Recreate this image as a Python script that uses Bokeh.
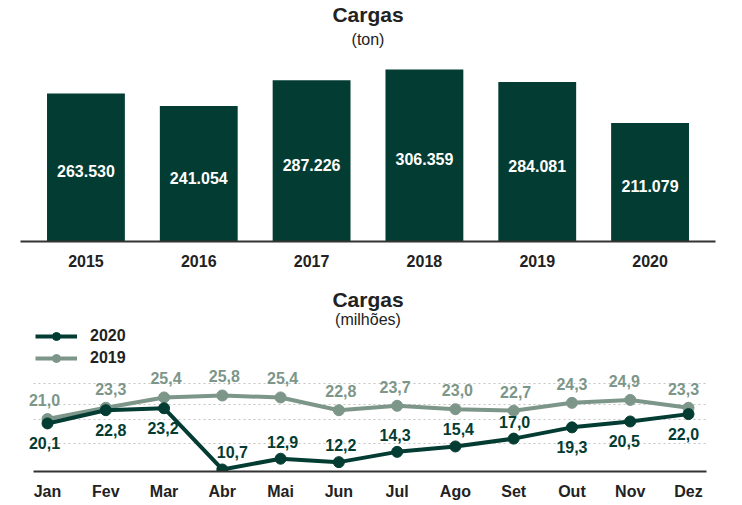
from bokeh.plotting import figure
from bokeh.models import (ColumnDataSource, FactorRange, Range1d, Title, Legend,
                          LegendItem, FixedTicker, LabelSet)
from bokeh.layouts import column
from bokeh.embed import file_html
from bokeh.resources import INLINE
from bokeh.core.properties import value

# ---------------- data ----------------
years = ["2015", "2016", "2017", "2018", "2019", "2020"]
tons = [263530, 241054, 287226, 306359, 284081, 211079]

months = ["Jan", "Fev", "Mar", "Abr", "Mai", "Jun",
          "Jul", "Ago", "Set", "Out", "Nov", "Dez"]
cargas_2020 = [20.1, 22.8, 23.2, 10.7, 12.9, 12.2, 14.3, 15.4, 17.0, 19.3, 20.5, 22.0]
cargas_2019 = [21.0, 23.3, 25.4, 25.8, 25.4, 22.8, 23.7, 23.0, 22.7, 24.3, 24.9, 23.3]
grid_levels = [16.0, 20.8, 24.0, 28.2]

# ---------------- styling ----------------
FONT = "Liberation Sans"
DARK = "#033c32"
GREY = "#7d968a"
INK = "#222222"
AXIS = "#333333"

side_2020 = ["below", "below", "below", "above", "above", "above",
             "above", "above", "above", "below", "below", "below"]
dx_2020 = [-3, 5, -1, 10, 2, 2, -2, 3, 1, 0, -6, -5]
dx_2019 = [-3, 5, 2, 2, 2, 2, -2, 2, 2, 0, -6, -5]
up_map = {"above": 17, "below": -20}


def style_axis(ax, size, standoff):
    ax.axis_line_color = AXIS
    ax.axis_line_width = 2
    ax.major_tick_line_color = None
    ax.minor_tick_line_color = None
    ax.major_tick_out = 0
    ax.major_tick_in = 0
    ax.minor_tick_out = 0
    ax.minor_tick_in = 0
    ax.axis_label = None
    ax.major_label_text_font = FONT
    ax.major_label_text_font_size = size
    ax.major_label_text_font_style = "bold"
    ax.major_label_text_color = INK
    ax.major_label_standoff = standoff


# ---------------- top: bar chart ----------------
src1 = ColumnDataSource(dict(
    year=years, ton=tons,
    mid=[t / 2 for t in tons],
    lab=[f"{t:,}".replace(",", ".") for t in tons],
))

p1 = figure(width=742, height=272,
            x_range=FactorRange(*years, range_padding=0.08, range_padding_units="absolute"),
            y_range=Range1d(0, 340000),
            output_backend="svg", toolbar_location=None,
            y_axis_location=None, title_location=None,
            min_border_left=20, min_border_right=27,
            min_border_top=50, min_border_bottom=31)
p1.add_layout(Title(text="(ton)", align="center", text_font=FONT, text_font_size="16px",
                    text_font_style="normal", text_color=INK, standoff=6), "above")
p1.add_layout(Title(text="Cargas", align="center", text_font=FONT, text_font_size="21px",
                    text_font_style="bold", text_color=INK, standoff=0), "above")

p1.vbar(x="year", top="ton", width=0.69, source=src1, fill_color=DARK, line_color=None)
p1.add_layout(LabelSet(x="year", y="mid", text="lab", source=src1, y_offset=-4,
                       text_align="center", text_baseline="middle", text_color="white",
                       text_font=value(FONT), text_font_size="16px", text_font_style="bold"))

style_axis(p1.xaxis[0], "16px", 13)
p1.xgrid.grid_line_color = None
p1.ygrid.grid_line_color = None
p1.outline_line_color = None

# ---------------- bottom: line chart ----------------
def fmt(v):
    return f"{v:.1f}".replace(".", ",")

src2 = ColumnDataSource(dict(
    month=months, v20=cargas_2020, v19=cargas_2019,
    l20=[fmt(v) for v in cargas_2020], l19=[fmt(v) for v in cargas_2019],
    up20=[up_map[s] for s in side_2020], up19=[19] * len(months),
    dx20=dx_2020, dx19=dx_2019,
))

p2 = figure(width=742, height=233,
            x_range=FactorRange(*months, range_padding=-0.0365, range_padding_units="absolute"),
            y_range=Range1d(10.29, 39.88),
            output_backend="svg", toolbar_location=None,
            y_axis_location=None, title_location=None,
            min_border_left=20, min_border_right=27,
            min_border_top=54, min_border_bottom=34)
p2.add_layout(Title(text="(milhões)", align="center", text_font=FONT, text_font_size="16px",
                    text_font_style="normal", text_color=INK, standoff=-3), "above")
p2.add_layout(Title(text="Cargas", align="center", text_font=FONT, text_font_size="21px",
                    text_font_style="bold", text_color=INK, standoff=0), "above")

p2.xgrid.grid_line_color = None
p2.ygrid.ticker = FixedTicker(ticks=grid_levels)
p2.ygrid.grid_line_color = "#c4c4c4"
p2.ygrid.grid_line_dash = "2 3"
p2.ygrid.grid_line_width = 1
p2.ygrid.cross_bounds = (0.26, 11.81)
p2.outline_line_color = None

l19 = p2.line("month", "v19", source=src2, line_color=GREY, line_width=4)
s19 = p2.scatter("month", "v19", source=src2, size=11, fill_color=GREY, line_color=GREY)
l20 = p2.line("month", "v20", source=src2, line_color=DARK, line_width=4)
s20 = p2.scatter("month", "v20", source=src2, size=11, fill_color=DARK, line_color=DARK)

p2.add_layout(LabelSet(x="month", y="v19", text="l19", source=src2,
                       x_offset="dx19", y_offset="up19",
                       text_align="center", text_baseline="middle", text_color=GREY,
                       text_font=value(FONT), text_font_size="16px", text_font_style="bold"))
p2.add_layout(LabelSet(x="month", y="v20", text="l20", source=src2,
                       x_offset="dx20", y_offset="up20",
                       text_align="center", text_baseline="middle", text_color=DARK,
                       text_font=value(FONT), text_font_size="16px", text_font_style="bold"))

legend = Legend(items=[LegendItem(label="2020", renderers=[l20, s20]),
                       LegendItem(label="2019", renderers=[l19, s19])],
                location=(15, 103), orientation="vertical",
                glyph_width=42, glyph_height=20, label_height=20,
                label_standoff=13, spacing=2, padding=0, margin=0,
                border_line_color=None, background_fill_alpha=0,
                label_text_font=FONT, label_text_font_size="16px",
                label_text_font_style="bold", label_text_color=INK)
p2.add_layout(legend)

style_axis(p2.xaxis[0], "16px", 11)
p2.xaxis[0].bounds = (0.26, 11.81)

layout = column(p1, p2)
open("out.html", "w").write(file_html(layout, INLINE))
